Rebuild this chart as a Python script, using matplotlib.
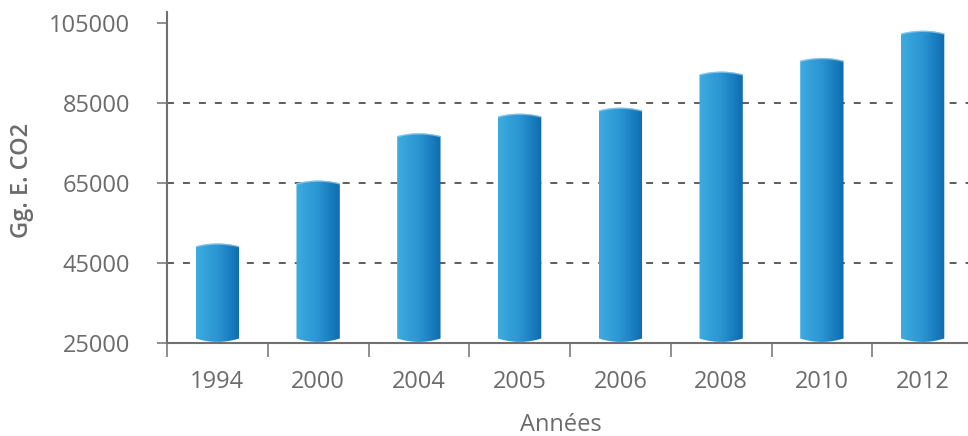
import numpy as np
import matplotlib
matplotlib.use("Agg")
import matplotlib.pyplot as plt
from matplotlib.path import Path
from matplotlib.patches import PathPatch
from matplotlib.colors import LinearSegmentedColormap

plt.rcParams['font.family'] = ['Open Sans', 'DejaVu Sans']
plt.rcParams['lines.scale_dashes'] = False

years = ['1994', '2000', '2004', '2005', '2006', '2008', '2010', '2012']
emissions = [49900, 65600, 77400, 82300, 83800, 92800, 96200, 103000]
y_ticks = [25000, 45000, 65000, 85000, 105000]
grid_levels = [45000, 65000, 85000]

gray = '#6b6b6b'
base = 25350
bar_w = 0.43
cap_top = 700      # height of the top arc (data units)
cap_bot = 850      # height of the bottom arc

cmap = LinearSegmentedColormap.from_list('cyl', ['#3eabe0', '#2a95d2', '#0e6bb0'])
grad = np.linspace(0, 1, 256).reshape(1, -1)


def cylinder_path(xc, top):
    hw = bar_w / 2
    t = np.linspace(-1, 1, 40)
    xs = xc + t * hw
    y_flat_bot = base + cap_bot
    y_flat_top = top - cap_top
    bot = np.column_stack([xs, y_flat_bot - cap_bot * (1 - t ** 2)])
    topc = np.column_stack([xs[::-1], y_flat_top + cap_top * (1 - t[::-1] ** 2)])
    verts = np.vstack([bot, topc, bot[:1]])
    codes = [Path.MOVETO] + [Path.LINETO] * (len(verts) - 2) + [Path.CLOSEPOLY]
    return Path(verts, codes)


fig = plt.figure(figsize=(9.68, 4.36), dpi=100)
ax = fig.add_axes([167 / 968, (436 - 343.3) / 436, (973 - 167) / 968, (343.3 - 12) / 436])

ax.set_xlim(-0.5, len(years) - 0.5)
ax.set_ylim(25000, 107700)

for g in grid_levels:
    ax.axhline(g, color='#505050', lw=1.3, ls=(0, (5, 6.5)), zorder=1)

for i, v in enumerate(emissions):
    path = cylinder_path(i, v)
    patch = PathPatch(path, facecolor='none', edgecolor='none')
    ax.add_patch(patch)
    im = ax.imshow(grad, cmap=cmap, aspect='auto', interpolation='bicubic',
                   extent=(i - bar_w / 2, i + bar_w / 2, base, v), zorder=2)
    im.set_clip_path(patch)
    # light rim on the top arc
    t = np.linspace(-1, 1, 40)
    ax.plot(i + t * bar_w / 2, v - cap_top + cap_top * (1 - t ** 2) - 120,
            color='#9fd3f0', lw=1.0, alpha=0.7, zorder=3, solid_capstyle='butt')

ax.set_xlim(-0.5, len(years) - 0.5)
ax.set_ylim(25000, 107700)

for s in ['top', 'right']:
    ax.spines[s].set_visible(False)
for s in ['left', 'bottom']:
    ax.spines[s].set_color('#707070')
    ax.spines[s].set_linewidth(1.5)

ax.set_yticks(y_ticks)
ax.set_yticklabels([str(t) for t in y_ticks])
ax.tick_params(axis='y', length=7.5, width=1.1, color='#707070', pad=19,
               labelsize=17, labelcolor=gray)

ax.set_xticks(np.arange(-0.5, len(years) - 0.5, 1.0))
ax.set_xticklabels([])
ax.tick_params(axis='x', which='major', length=10, width=1.1, color='#707070')
ax.set_xticks(np.arange(len(years)), minor=True)
ax.set_xticklabels(years, minor=True)
ax.tick_params(axis='x', which='minor', length=0, pad=19, labelsize=17, labelcolor=gray)

fig.text(22 / 968, (436 - 180) / 436, 'Gg. E. CO2', rotation=90, ha='center', va='center',
         fontsize=17, color=gray, fontweight='semibold')
fig.text(561 / 968, (436 - 431) / 436, 'Années', ha='center', va='baseline',
         fontsize=17, color=gray)

fig.savefig('out.png', dpi=100)
